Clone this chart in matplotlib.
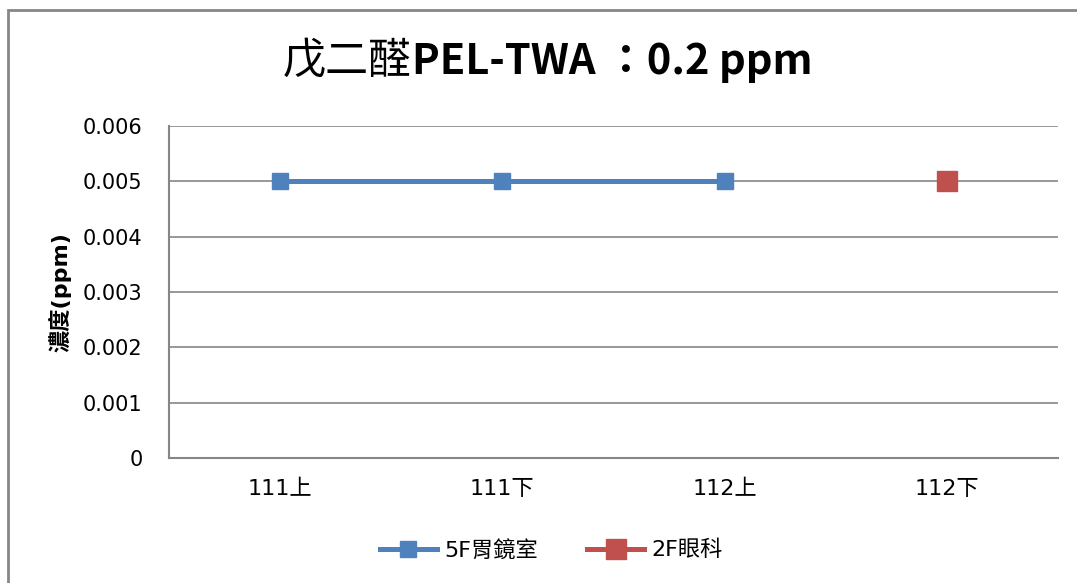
import numpy as np
import matplotlib.pyplot as plt
import matplotlib.patches as mpatches

# 資料
categories = ['111上', '111下', '112上', '112下']
s1_name = '5F胃鏡室'
s1_values = [0.005, 0.005, 0.005, np.nan]
s2_name = '2F眼科'
s2_values = [np.nan, np.nan, np.nan, 0.005]
yticks = [0, 0.001, 0.002, 0.003, 0.004, 0.005, 0.006]
ytick_labels = ['0', '0.001', '0.002', '0.003', '0.004', '0.005', '0.006']

fam = ['DejaVu Sans', 'Noto Sans CJK TC']
plt.rcParams['font.family'] = fam

fig = plt.figure(figsize=(10.77, 5.83), dpi=100)
ax = fig.add_axes([169/1077, 1 - 458/583, (1058 - 169)/1077, (458 - 126)/583])

x = np.arange(len(categories))
ax.plot(x, s1_values, color='#4F81BD', lw=3.6, marker='s', ms=11,
        mec='#4F81BD', label=s1_name, zorder=3)
ax.plot(x, s2_values, color='#C0504D', lw=3.6, marker='s', ms=14,
        mec='#C0504D', label=s2_name, zorder=3)

ax.set_xlim(-0.5, len(categories) - 0.5)
ax.set_ylim(0, 0.006)
ax.set_xticks(x)
ax.set_xticklabels(categories, fontsize=16)
ax.set_yticks(yticks)
ax.set_yticklabels(ytick_labels, fontsize=15)
ax.tick_params(axis='y', length=0, pad=19)
ax.tick_params(axis='x', length=0, pad=15)
ax.yaxis.grid(True, color='#868686', lw=1.2)
ax.set_axisbelow(True)
for s in ['top', 'right']:
    ax.spines[s].set_visible(False)
for s in ['left', 'bottom']:
    ax.spines[s].set_color('#868686')
    ax.spines[s].set_linewidth(1.5)

fig.text(60/1077, 1 - 292/583, '濃度(ppm)', rotation=90, fontsize=16,
         fontweight='bold', ha='center', va='center', family=fam)

# 標題: 中文部分 + 粗體部分
fig.canvas.draw()
r = fig.canvas.get_renderer()
t1 = fig.text(0, 1 - 62/583, '戊二醛', fontsize=31, family=['Noto Sans CJK TC'],
              va='center', ha='left')
t2 = fig.text(0, 1 - 62/583, 'PEL-TWA ：0.2 ppm', fontsize=30, fontweight='bold',
              family=['Noto Sans CJK TC', 'DejaVu Sans'], va='center', ha='left')
w1 = t1.get_window_extent(r).width
w2 = t2.get_window_extent(r).width
x0 = 548 - (w1 + w2) / 2
t1.set_x(x0 / 1077)
t2.set_x((x0 + w1) / 1077)

ax.legend(loc='center', bbox_to_anchor=(551/1077, 1 - 550/583),
          bbox_transform=fig.transFigure, ncol=2, frameon=False, fontsize=16,
          handlelength=2.6, columnspacing=2.2, handletextpad=0.3)

fig.patches.append(mpatches.Rectangle((8/1077, -0.02), 1.1, 1 - 10/583 + 0.02,
                                      transform=fig.transFigure, fill=False,
                                      edgecolor='#868686', lw=2))

fig.savefig('out.png', dpi=100)
